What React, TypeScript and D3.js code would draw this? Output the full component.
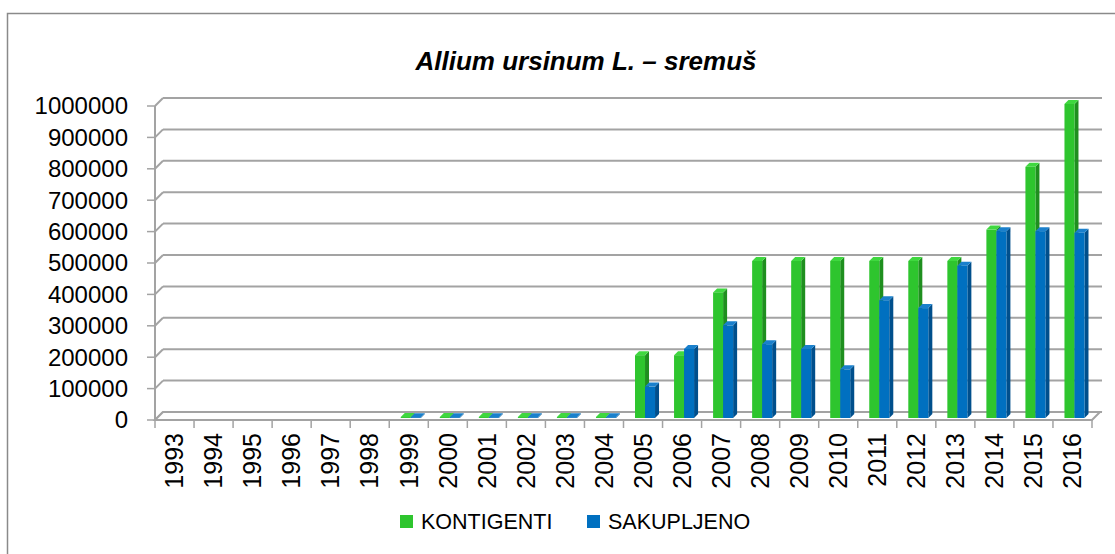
import React from "react";
import * as d3 from "d3";

const years = ["1993","1994","1995","1996","1997","1998","1999","2000","2001","2002","2003","2004","2005","2006","2007","2008","2009","2010","2011","2012","2013","2014","2015","2016"];
const kontigenti: (number | null)[] = [null,null,null,null,null,null,3000,3000,3000,3000,3000,3000,200000,200000,400000,500000,500000,500000,500000,500000,500000,600000,800000,1000000];
const sakupljeno: (number | null)[] = [null,null,null,null,null,null,2500,2500,2500,2500,2500,2500,100000,220000,295000,235000,220000,155000,375000,350000,485000,595000,595000,590000];
const yTicks = [0,100000,200000,300000,400000,500000,600000,700000,800000,900000,1000000];
const seriesNames = ["KONTIGENTI","SAKUPLJENO"];
const title = "Allium ursinum L. – sremuš";

const W = 1115, H = 554;
const X0 = 155, X1 = 1092, Y0 = 420, Y1 = 106;
const DEPTH = 8; // floor/wall depth offset
const BAR_OFF = 2; // bar front offset into depth
const BAR_D = 4; // bar depth
const FONT = "'Liberation Sans', Arial, sans-serif";

const colors = [
  { front: "#2ec52e", side: "#1f8f1f", top: "#3fd83f" },
  { front: "#0070c0", side: "#004f8c", top: "#1a80cc" },
];

export default function App() {
  const x = d3.scaleBand<string>().domain(years).range([X0, X1]).paddingInner(0).paddingOuter(0);
  const sub = d3.scaleBand<string>().domain(seriesNames).range([0, x.step()]).paddingInner(0).paddingOuter(0.95);
  const y = d3.scaleLinear().domain([0, 1000000]).range([Y0, Y1]);
  const fmt = d3.format("d");
  const grid = "#a3a3a3";

  const bars: React.ReactNode[] = [];
  [kontigenti, sakupljeno].forEach((vals, si) => {
    vals.forEach((v, i) => {
      if (v == null) return;
      const bx = (x(years[i]) as number) + (sub(seriesNames[si]) as number) + BAR_OFF;
      const bw = sub.bandwidth();
      const yb = Y0 - BAR_OFF;
      const yt = y(v) - BAR_OFF;
      const c = colors[si];
      const d = BAR_D;
      bars.push(
        <g key={`${si}-${i}`}>
          <polygon points={`${bx + bw},${yt} ${bx + bw + d},${yt - d} ${bx + bw + d},${yb - d} ${bx + bw},${yb}`} fill={c.side} />
          <polygon points={`${bx},${yt} ${bx + d},${yt - d} ${bx + bw + d},${yt - d} ${bx + bw},${yt}`} fill={c.top} />
          <rect x={bx} y={yt} width={bw} height={Math.max(0, yb - yt)} fill={c.front} />
        </g>
      );
    });
  });
  // draw in order by category so later categories overlap properly
  const ordered: React.ReactNode[] = [];
  years.forEach((_, i) => {
    [0, 1].forEach((si) => {
      const b = bars.find((n: any) => n && n.key === `${si}-${i}`);
      if (b) ordered.push(b);
    });
  });

  return (
    <svg width={W} height={H} style={{ position: "absolute", left: 0, top: 0, background: "#fff" }}>
      <rect x={7.5} y={13.5} width={W + 20} height={H + 20} fill="#fff" stroke="#8a8a8a" strokeWidth={1.5} />
      <text x={586} y={70} textAnchor="middle" fontFamily={FONT} fontWeight="bold" fontStyle="italic" fontSize={26} fill="#000">{title}</text>

      {/* back wall gridlines with left-wall diagonals */}
      {yTicks.map((t) => (
        <g key={t}>
          <line x1={X0} y1={y(t)} x2={X0 + DEPTH} y2={y(t) - DEPTH} stroke={grid} strokeWidth={2} />
          <line x1={X0 + DEPTH} y1={y(t) - DEPTH} x2={X1 + DEPTH + 2} y2={y(t) - DEPTH} stroke={grid} strokeWidth={2} />
          <line x1={X0 - 8} y1={y(t)} x2={X0} y2={y(t)} stroke={grid} strokeWidth={1.5} />
          <text x={128} y={y(t)} dy="0.35em" textAnchor="end" fontFamily={FONT} fontSize={24} fill="#000">{fmt(t)}</text>
        </g>
      ))}
      {/* floor */}
      <polygon points={`${X0},${Y0} ${X0 + DEPTH},${Y0 - DEPTH} ${X1 + DEPTH},${Y0 - DEPTH} ${X1},${Y0}`} fill="#fff" stroke={grid} strokeWidth={2} />
      <line x1={X0} y1={Y1} x2={X0} y2={Y0} stroke={grid} strokeWidth={2} />

      {ordered}

      {/* category ticks */}
      {d3.range(years.length + 1).map((i) => {
        const tx = X0 + i * x.step();
        return <line key={i} x1={tx} y1={Y0} x2={tx} y2={Y0 + 8} stroke={grid} strokeWidth={1.5} />;
      })}
      {years.map((yr) => {
        const cx = (x(yr) as number) + x.bandwidth() / 2;
        return (
          <text key={yr} transform={`translate(${cx},${433}) rotate(-90)`} dy="0.35em" textAnchor="end" fontFamily={FONT} fontSize={25} fill="#000">{yr}</text>
        );
      })}

      {/* legend */}
      <rect x={400} y={515} width={13} height={13} fill={colors[0].front} />
      <text x={421} y={529} fontFamily={FONT} fontSize={21.5} fill="#000">{seriesNames[0]}</text>
      <rect x={587} y={515} width={13} height={13} fill={colors[1].front} />
      <text x={608} y={529} fontFamily={FONT} fontSize={21.5} fill="#000">{seriesNames[1]}</text>
    </svg>
  );
}
